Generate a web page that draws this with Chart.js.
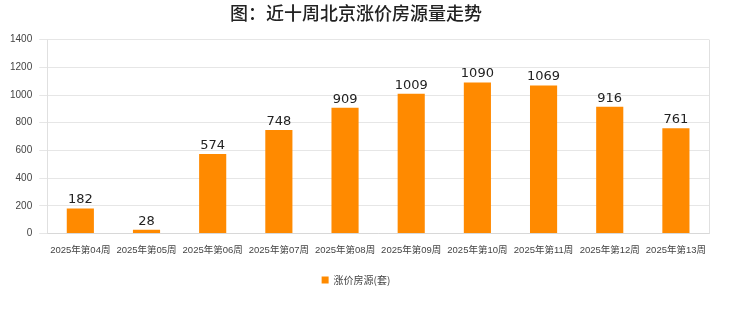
<!DOCTYPE html>
<html>
<head>
<meta charset="utf-8">
<script src="https://cdn.jsdelivr.net/npm/chart.js@4.4.1/dist/chart.umd.min.js"></script>
<style>
  html, body { margin: 0; padding: 0; background: #fff; }
  #wrap { width: 740px; height: 312px; }
</style>
</head>
<body>
<div id="wrap"><canvas id="myChart"></canvas></div>
<script>
const weeks = ["2025年第04周", "2025年第05周", "2025年第06周", "2025年第07周", "2025年第08周",
               "2025年第09周", "2025年第10周", "2025年第11周", "2025年第12周", "2025年第13周"];
const rising = [182, 28, 574, 748, 909, 1009, 1090, 1069, 916, 761];
const seriesName = "涨价房源(套)";
const chartTitle = "图：近十周北京涨价房源量走势";

// value labels over bars + side borders of the plot
const barLabels = {
    id: "barLabels",
    afterDatasetsDraw(chart){
        const ctx = chart.ctx;
        const meta = chart.getDatasetMeta(0);
        ctx.save();
        ctx.font = "13px 'DejaVu Sans'";
        ctx.fillStyle = "#222";
        ctx.textAlign = "center";
        ctx.textBaseline = "bottom";
        meta.data.forEach(function(bar, i){
            ctx.fillText(rising[i], bar.x, bar.y - 2);
        });
        const a = chart.chartArea;
        ctx.strokeStyle = "#e0e0e0";
        ctx.lineWidth = 1;
        ctx.beginPath();
        ctx.moveTo(Math.round(a.left) + 0.5, a.top);
        ctx.lineTo(Math.round(a.left) + 0.5, a.bottom);
        ctx.moveTo(Math.round(a.right) + 0.5, a.top);
        ctx.lineTo(Math.round(a.right) + 0.5, a.bottom);
        ctx.stroke();
        ctx.restore();
    }
};

const ctx = document.getElementById('myChart').getContext('2d');
const myChart = new Chart(ctx, {
    type: 'bar',
    data: {
        labels: weeks,
        datasets: [{
            label: seriesName,
            data: rising,
            backgroundColor: '#ff8a00',
            borderWidth: 0,
            categoryPercentage: 0.82,
            barPercentage: 0.5
        }]
    },
    options: {
        responsive: true,
        maintainAspectRatio: false,
        animation: false,
        layout: { padding: { left: 3, right: 31, top: 0, bottom: 17 } },
        plugins: {
            title: {
                display: true,
                text: chartTitle,
                color: '#222',
                font: { size: 18, weight: '500', family: "'Noto Sans CJK SC'" },
                padding: { top: 2, bottom: 16 }
            },
            legend: {
                position: 'bottom',
                labels: {
                    boxWidth: 7,
                    boxHeight: 7,
                    color: '#444',
                    font: { size: 10, family: "'Noto Sans CJK SC'" },
                    padding: 16
                }
            },
            tooltip: { enabled: false }
        },
        scales: {
            x: {
                grid: { display: false },
                border: { color: '#d8d8d8' },
                ticks: {
                    color: '#444',
                    font: { size: 9.5, family: "'Liberation Sans', 'Noto Sans CJK SC'" },
                    maxRotation: 0,
                    autoSkip: false,
                    padding: 3
                }
            },
            y: {
                min: 0,
                max: 1400,
                grid: { color: '#e6e6e6' },
                border: { display: false },
                ticks: {
                    stepSize: 200,
                    color: '#444',
                    font: { size: 10, family: "'Liberation Sans'" },
                    padding: 7,
                    callback: function(v){ return v; }
                }
            }
        }
    },
    plugins: [barLabels]
});
</script>
</body>
</html>
